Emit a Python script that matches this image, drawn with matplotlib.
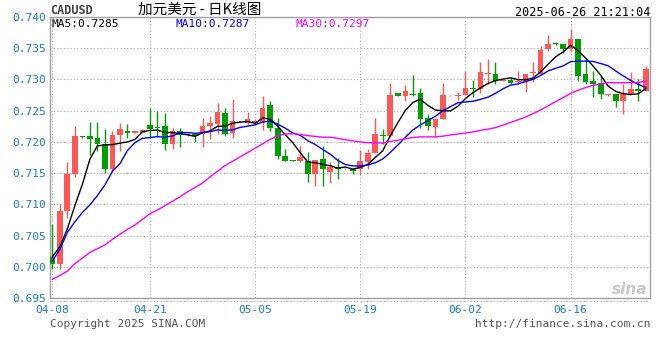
import numpy as np
import pandas as pd
import matplotlib
matplotlib.use('Agg')
import matplotlib.pyplot as plt
from matplotlib.lines import Line2D

# daily CADUSD candles, 04-08 .. 06-26 (one per calendar day)
dates = pd.date_range('2025-04-08', '2025-06-26', freq='D')

opens = [0.7016, 0.7004, 0.7089, 0.7149, 0.7209, 0.7209, 0.7207, 0.7196, 0.7156, 0.7211,
         0.7218, 0.7215, 0.7215, 0.7227, 0.7223, 0.7226, 0.7196, 0.7218, 0.7211, 0.7212,
         0.7213, 0.7225, 0.7228, 0.7247, 0.7215, 0.7233, 0.7231, 0.7231, 0.7232, 0.7259,
         0.7223, 0.7178, 0.7171, 0.7169, 0.7169, 0.7149, 0.7173, 0.7152, 0.7160, 0.7156,
         0.7157, 0.7156, 0.7167, 0.7182, 0.7211, 0.7210, 0.7278, 0.7274, 0.7276, 0.7278,
         0.7239, 0.7224, 0.7236, 0.7273, 0.7274, 0.7275, 0.7286, 0.7285, 0.7309, 0.7309,
         0.7298, 0.7299, 0.7296, 0.7296, 0.7311, 0.7309, 0.7348, 0.7359, 0.7357, 0.7349,
         0.7365, 0.7309, 0.7298, 0.7295, 0.7275, 0.7277, 0.7265, 0.7276, 0.7285, 0.7282]
highs = [0.7068, 0.7101, 0.7167, 0.7225, 0.7210, 0.7232, 0.7232, 0.7220, 0.7217, 0.7231,
         0.7228, 0.7217, 0.7221, 0.7255, 0.7250, 0.7247, 0.7222, 0.7222, 0.7212, 0.7212,
         0.7238, 0.7241, 0.7263, 0.7255, 0.7268, 0.7234, 0.7248, 0.7237, 0.7273, 0.7265,
         0.7239, 0.7189, 0.7171, 0.7194, 0.7184, 0.7171, 0.7194, 0.7167, 0.7175, 0.7158,
         0.7157, 0.7187, 0.7188, 0.7239, 0.7221, 0.7295, 0.7278, 0.7291, 0.7307, 0.7287,
         0.7245, 0.7237, 0.7294, 0.7275, 0.7280, 0.7313, 0.7299, 0.7328, 0.7332, 0.7328,
         0.7299, 0.7302, 0.7314, 0.7309, 0.7328, 0.7354, 0.7371, 0.7360, 0.7357, 0.7381,
         0.7365, 0.7334, 0.7314, 0.7305, 0.7277, 0.7277, 0.7293, 0.7312, 0.7301, 0.7321]
lows = [0.6997, 0.6997, 0.7078, 0.7144, 0.7207, 0.7179, 0.7185, 0.7150, 0.7152, 0.7185,
        0.7207, 0.7214, 0.7214, 0.7206, 0.7210, 0.7187, 0.7189, 0.7192, 0.7210, 0.7200,
        0.7192, 0.7204, 0.7212, 0.7210, 0.7207, 0.7232, 0.7227, 0.7227, 0.7219, 0.7217,
        0.7172, 0.7169, 0.7169, 0.7167, 0.7136, 0.7129, 0.7130, 0.7134, 0.7140, 0.7156,
        0.7149, 0.7147, 0.7157, 0.7182, 0.7196, 0.7208, 0.7274, 0.7265, 0.7274, 0.7223,
        0.7219, 0.7208, 0.7236, 0.7273, 0.7267, 0.7275, 0.7272, 0.7279, 0.7293, 0.7293,
        0.7297, 0.7293, 0.7293, 0.7280, 0.7296, 0.7309, 0.7346, 0.7355, 0.7343, 0.7344,
        0.7298, 0.7292, 0.7272, 0.7269, 0.7274, 0.7256, 0.7244, 0.7276, 0.7265, 0.7282]
closes = [0.7004, 0.7090, 0.7149, 0.7209, 0.7208, 0.7205, 0.7197, 0.7157, 0.7211, 0.7220,
          0.7215, 0.7217, 0.7219, 0.7221, 0.7222, 0.7196, 0.7217, 0.7211, 0.7211, 0.7209,
          0.7226, 0.7231, 0.7248, 0.7212, 0.7233, 0.7234, 0.7236, 0.7234, 0.7255, 0.7223,
          0.7177, 0.7169, 0.7170, 0.7175, 0.7148, 0.7171, 0.7156, 0.7159, 0.7156, 0.7157,
          0.7154, 0.7170, 0.7183, 0.7212, 0.7210, 0.7275, 0.7274, 0.7281, 0.7275, 0.7237,
          0.7225, 0.7237, 0.7275, 0.7274, 0.7275, 0.7286, 0.7285, 0.7312, 0.7310, 0.7298,
          0.7298, 0.7295, 0.7297, 0.7309, 0.7312, 0.7347, 0.7357, 0.7356, 0.7348, 0.7365,
          0.7306, 0.7296, 0.7292, 0.7276, 0.7276, 0.7265, 0.7277, 0.7285, 0.7282, 0.7317]

# moving averages before enough closes exist
ma5_head = [0.7016, 0.7032, 0.7061, 0.7098]
ma10_head = [0.7009, 0.7028, 0.7055, 0.7072, 0.7087, 0.7099, 0.7114, 0.7131, 0.7153]
ma30_head = [0.6980, 0.6986, 0.6993, 0.7005, 0.7014, 0.7023, 0.7029, 0.7035, 0.7044, 0.7052,
             0.7060, 0.7067, 0.7076, 0.7085, 0.7091, 0.7098, 0.7105, 0.7112, 0.7120, 0.7127,
             0.7134, 0.7144, 0.7153, 0.7162, 0.7169, 0.7176, 0.7183, 0.7190, 0.7197]

tick_dates = ['04-08', '04-21', '05-05', '05-19', '06-02', '06-16']
yticks = [0.695, 0.700, 0.705, 0.710, 0.715, 0.720, 0.725, 0.730, 0.735, 0.740]

df = pd.DataFrame({'open': opens, 'high': highs, 'low': lows, 'close': closes}, index=dates)


def moving_avg(n, head):
    ma = df['close'].rolling(n).mean().values
    ma[:len(head)] = head
    return ma


def trunc4(v):
    # sina shows the MA value cut to 4 decimals, not rounded
    return '%.4f' % (np.floor(v * 1e4 + 1e-9) / 1e4)


ma5 = moving_avg(5, ma5_head)
ma10 = moving_avg(10, ma10_head)
ma30 = moving_avg(30, ma30_head)

UP = '#ff5656'
DOWN = '#009e00'
BLUE_TXT = '#1c7ad6'
MONO = 'DejaVu Sans Mono'

W, H = 660, 360
fig = plt.figure(figsize=(6.6, 3.6), dpi=100)
fig.patch.set_facecolor('white')
ax = fig.add_axes([50 / W, 1 - 298 / H, 600 / W, 281 / H])

x = np.arange(len(df))
for i in x:
    o, h, l, c = opens[i], highs[i], lows[i], closes[i]
    col = UP if c >= o else DOWN
    ax.vlines(i, l, h, color=col, lw=1, zorder=2)
    bottom = min(o, c)
    height = max(abs(c - o), 0.00012)
    ax.bar(i, height, 0.76, bottom=bottom, color=col, edgecolor=col, lw=0, zorder=3)

ax.plot(x, ma5, color='black', lw=1, zorder=4)
ax.plot(x, ma10, color='#0000ff', lw=1, zorder=4)
ax.plot(x, ma30, color='#ff00ff', lw=1, zorder=4)

ax.set_xlim(-0.31, len(df) - 1 + 0.57)
ax.set_ylim(0.695, 0.740)

tick_pos = [list(dates.strftime('%m-%d')).index(t) for t in tick_dates]
ax.set_xticks(tick_pos)
ax.set_xticklabels(tick_dates, fontfamily=MONO, fontsize=8, color=BLUE_TXT)
ax.set_yticks(yticks)
ax.set_yticklabels(['%.3f' % v for v in yticks], fontfamily=MONO, fontsize=8, color=BLUE_TXT)
ax.tick_params(length=0, pad=3)
ax.tick_params(axis='x', pad=5)

ax.grid(True, color='#b0b0b0', lw=0.8, linestyle=(0, (1, 2)), zorder=0)
for s in ax.spines.values():
    s.set_color('#a0a0a0')
    s.set_linewidth(1)

# dotted line just under the plot box
fig.add_artist(Line2D([50 / W, 650 / W], [1 - 300.5 / H] * 2, color='#b0b0b0',
                      lw=0.8, linestyle=(0, (1, 2))))

# header texts
fig.text(50 / W, 1 - 11 / H, 'CADUSD', fontfamily=MONO, fontsize=8.5, fontweight='bold',
         color='#444444', ha='left', va='center')
fig.text(200 / W, 1 - 10 / H, '加元美元 - 日K线图', family=['Noto Sans CJK SC', 'DejaVu Sans'],
         fontsize=10.5, color='black', ha='center', va='center')
fig.text(650 / W, 1 - 12 / H, '2025-06-26 21:21:04', fontfamily=MONO, fontsize=8.5,
         color='black', ha='right', va='center')

# MA legend inside the box
fig.text(52 / W, 1 - 24 / H, 'MA5:' + trunc4(ma5[-1]), fontfamily=MONO, fontsize=8,
         color='black', ha='left', va='center')
fig.text(175 / W, 1 - 24 / H, 'MA10:' + trunc4(ma10[-1]), fontfamily=MONO, fontsize=8,
         color='#0000ff', ha='left', va='center')
fig.text(295 / W, 1 - 24 / H, 'MA30:' + trunc4(ma30[-1]), fontfamily=MONO, fontsize=8,
         color='#ff00ff', ha='left', va='center')

# footer
fig.text(50 / W, 1 - 324 / H, 'Copyright 2025 SINA.COM', fontfamily=MONO, fontsize=8,
         color='#555555', ha='left', va='center')
fig.text(650 / W, 1 - 324 / H, 'http://finance.sina.com.cn', fontfamily=MONO, fontsize=8,
         color='#555555', ha='right', va='center')

# faint watermark
fig.text(630 / W, 1 - 290 / H, 'sina', fontsize=11, fontstyle='italic', fontweight='bold',
         color='#c8c8c8', ha='center', va='center')

fig.savefig('out.png', dpi=100)
